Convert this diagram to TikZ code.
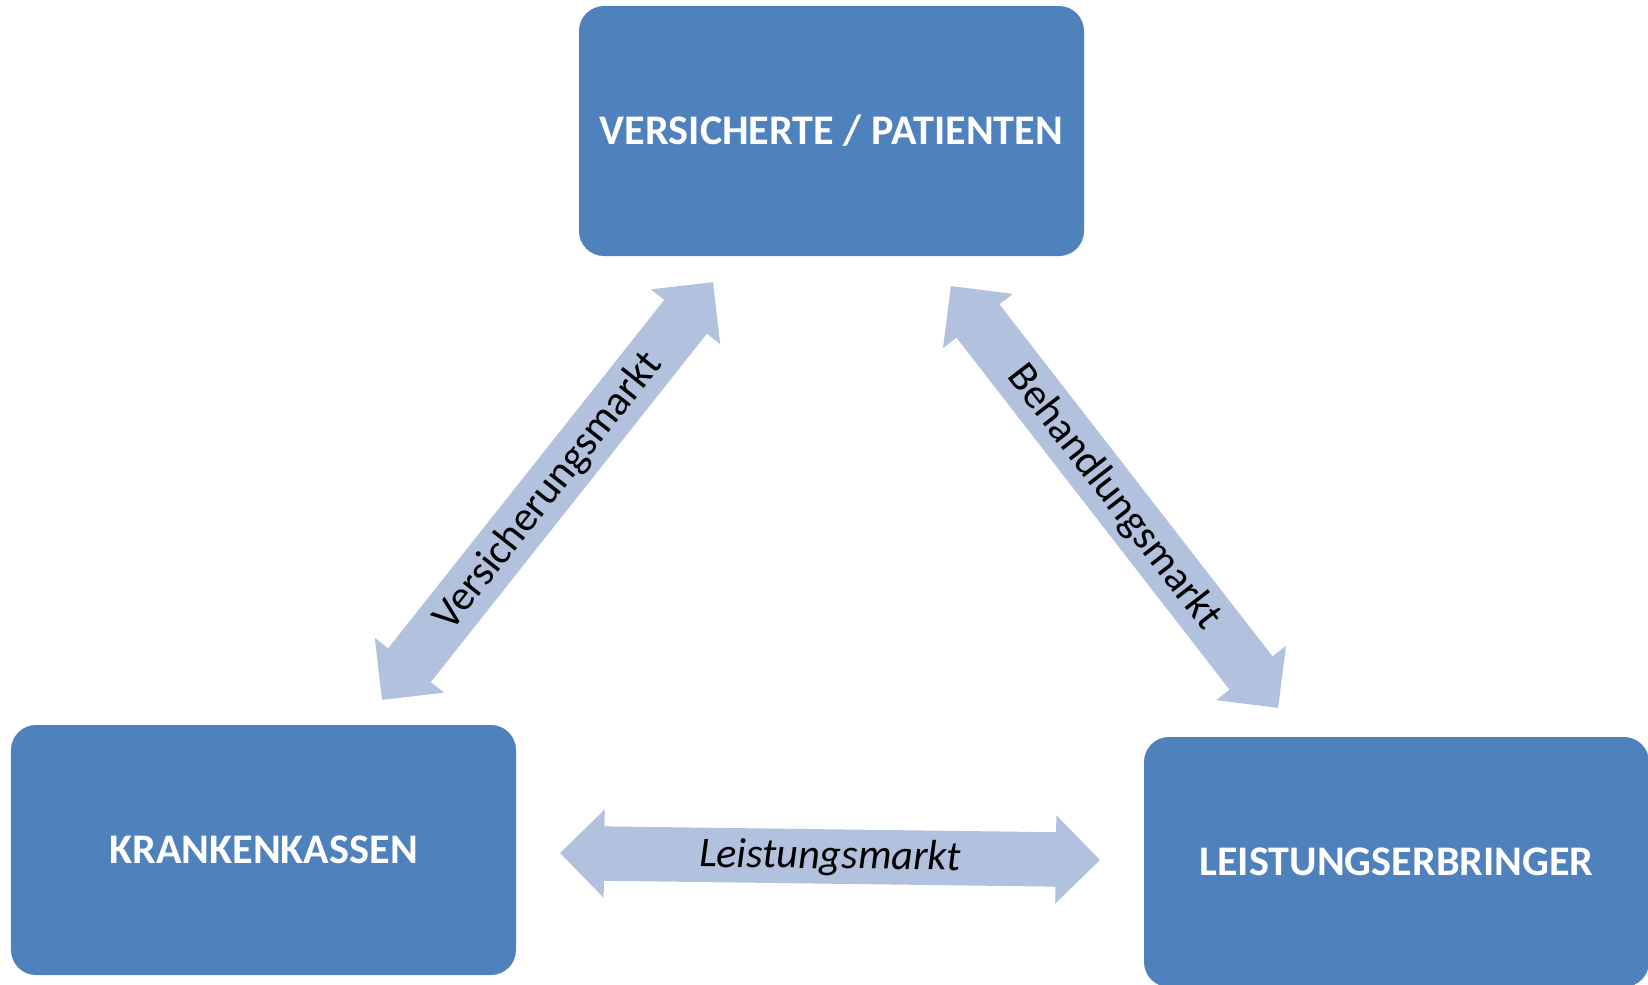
\documentclass[tikz,border=0pt]{standalone}
\usepackage{fontspec}
\setmainfont{Carlito}
\usepackage{tikz}
\usetikzlibrary{shapes}
\usetikzlibrary{shapes.arrows}
\definecolor{boxblau}{RGB}{79,129,189}
\definecolor{pfeilblau}{RGB}{178,193,222}
\tikzstyle{akteur}=[
        rectangle,
        rounded corners=0.25cm,
        fill=boxblau,
        text=white,
        font=\fontsize{12}{14}\selectfont\bfseries,
        minimum width=5.05cm,
        minimum height=2.5cm
]
\tikzstyle{markt}=[
        double arrow,
        double arrow head extend=0.17cm,
        double arrow tip angle=90,
        fill=pfeilblau,
        text=black,
        font=\fontsize{12}{14}\selectfont,
        text height=0.30cm,
        text depth=0.06cm,
        inner ysep=0.085cm,
        inner xsep=0pt
]

\begin{document}
\begin{tikzpicture}
\useasboundingbox (0,0) rectangle (16.48,-9.84);
\node[akteur] (vp) at (8.315,-1.31) {VERSICHERTE / PATIENTEN};
\node[akteur] (kk) at (2.635,-8.50) {KRANKENKASSEN};
\node[akteur] (le) at (13.965,-8.62) {LEISTUNGSERBRINGER};
%Maerkte
\node[markt,rotate=51.6,minimum height=5.33cm] (vm) at (5.475,-4.91) {Versicherungsmarkt};
\node[markt,rotate=-52.2,minimum height=5.34cm] (bm) at (11.145,-4.97) {Behandlungsmarkt};
\node[markt,rotate=-0.74,minimum height=5.40cm] (lm) at (8.30,-8.565) {\itshape Leistungsmarkt};
\end{tikzpicture}
\end{document}
